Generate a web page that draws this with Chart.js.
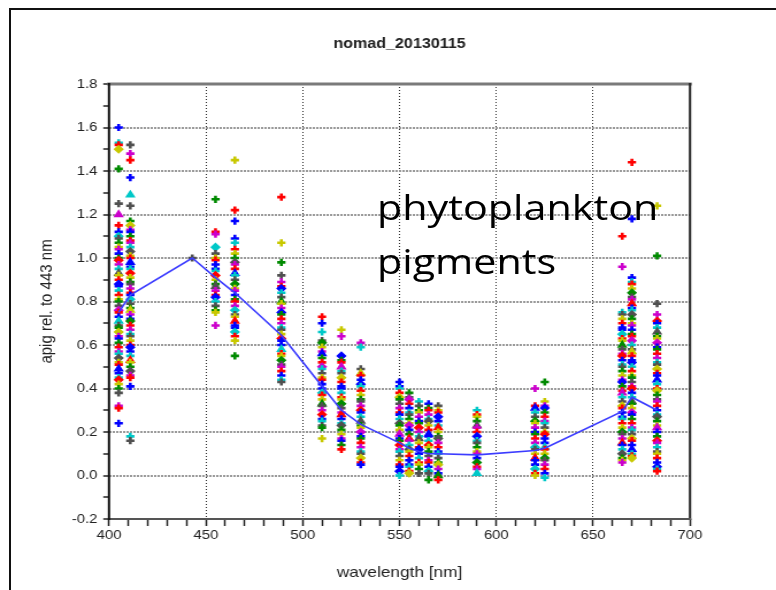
<!DOCTYPE html>
<html>
<head>
<meta charset="utf-8">
<script src="https://cdn.jsdelivr.net/npm/chart.js@4.4.1/dist/chart.umd.min.js"></script>
<style>
  html, body { margin: 0; padding: 0; background: #fff; }
  #wrap { position: relative; width: 776px; height: 590px; overflow: hidden; }
  #c { position: absolute; left: 0; top: 0; }
  #frame { position: absolute; left: 9px; top: 8px; width: 820px; height: 640px;
           border-left: 2px solid #111; border-top: 2px solid #111; pointer-events: none; }
  #note { position: absolute; left: 377px; top: 180px; font-family: 'Open Sans', sans-serif;
          font-size: 35px; line-height: 54px; color: #000; white-space: nowrap;
          transform: scaleX(1.18); transform-origin: 0 0; }
</style>
</head>
<body>
<div id="wrap">
  <canvas id="c" width="675" height="590" style="width:776px;height:590px"></canvas>
  <div id="frame"></div>
  <div id="note">phytoplankton<br>pigments</div>
</div>
<script>
// Wavelength bands (nm) and the band-mean spectrum
const wavelengths = [405, 411, 443, 455, 465, 489, 510, 520, 530, 550, 555, 560, 565, 570, 590, 620, 625, 665, 670, 683];
const meanApig = [0.75, 0.83, 1.00, 0.91, 0.84, 0.645, 0.41, 0.30, 0.235, 0.15, 0.125, 0.11, 0.10, 0.10, 0.095, 0.115, 0.125, 0.295, 0.36, 0.30];

// Individual normalised samples per band
const apig405 = [1.60, 1.53, 1.52, 1.50, 1.41, 1.25, 1.20, 1.15, 1.12, 1.10, 1.09, 1.07, 1.05, 1.04, 1.02, 1.00, 0.99, 0.97, 0.95, 0.93, 0.92, 0.90, 0.88, 0.87, 0.85, 0.83, 0.81, 0.80, 0.78, 0.76, 0.75, 0.73, 0.71, 0.69, 0.68, 0.66, 0.64, 0.63, 0.61, 0.59, 0.57, 0.56, 0.54, 0.52, 0.51, 0.49, 0.47, 0.45, 0.44, 0.42, 0.40, 0.38, 0.32, 0.31, 0.24];
const apig411 = [1.52, 1.48, 1.45, 1.37, 1.29, 1.24, 1.17, 1.15, 1.13, 1.12, 1.10, 1.08, 1.07, 1.05, 1.03, 1.01, 1.00, 0.98, 0.96, 0.95, 0.93, 0.91, 0.89, 0.88, 0.86, 0.84, 0.83, 0.81, 0.79, 0.77, 0.76, 0.74, 0.72, 0.71, 0.69, 0.67, 0.65, 0.64, 0.62, 0.60, 0.59, 0.57, 0.55, 0.53, 0.52, 0.50, 0.48, 0.46, 0.45, 0.41, 0.18, 0.16];
const apig443 = [1.00];
const apig455 = [1.27, 1.12, 1.11, 1.05, 1.02, 1.00, 0.99, 0.97, 0.95, 0.94, 0.92, 0.90, 0.88, 0.87, 0.85, 0.83, 0.82, 0.80, 0.78, 0.76, 0.75, 0.69];
const apig465 = [1.45, 1.22, 1.17, 1.09, 1.07, 1.04, 1.02, 1.00, 0.98, 0.97, 0.95, 0.93, 0.92, 0.90, 0.88, 0.86, 0.85, 0.83, 0.81, 0.80, 0.78, 0.76, 0.74, 0.73, 0.71, 0.69, 0.68, 0.66, 0.64, 0.62, 0.55];
const apig489 = [1.28, 1.07, 0.98, 0.92, 0.89, 0.87, 0.86, 0.84, 0.82, 0.80, 0.79, 0.77, 0.75, 0.74, 0.72, 0.70, 0.68, 0.67, 0.65, 0.63, 0.62, 0.60, 0.58, 0.56, 0.55, 0.53, 0.51, 0.50, 0.48, 0.46, 0.44, 0.43];
const apig510 = [0.73, 0.70, 0.66, 0.62, 0.61, 0.59, 0.57, 0.56, 0.54, 0.52, 0.50, 0.49, 0.47, 0.45, 0.44, 0.42, 0.40, 0.38, 0.37, 0.35, 0.33, 0.32, 0.30, 0.28, 0.26, 0.25, 0.23, 0.22, 0.17];
const apig520 = [0.67, 0.64, 0.55, 0.53, 0.52, 0.50, 0.48, 0.47, 0.45, 0.43, 0.41, 0.40, 0.38, 0.36, 0.35, 0.33, 0.31, 0.29, 0.28, 0.26, 0.24, 0.23, 0.21, 0.19, 0.17, 0.16, 0.14, 0.12];
const apig530 = [0.61, 0.59, 0.49, 0.47, 0.46, 0.44, 0.42, 0.41, 0.39, 0.37, 0.35, 0.34, 0.32, 0.30, 0.29, 0.27, 0.25, 0.23, 0.22, 0.20, 0.18, 0.17, 0.15, 0.13, 0.11, 0.10, 0.08, 0.06, 0.05];
const apig550 = [0.43, 0.41, 0.40, 0.38, 0.36, 0.35, 0.33, 0.31, 0.29, 0.28, 0.26, 0.24, 0.23, 0.21, 0.19, 0.17, 0.16, 0.14, 0.12, 0.11, 0.09, 0.07, 0.05, 0.04, 0.02, 0.00];
const apig555 = [0.38, 0.36, 0.35, 0.33, 0.31, 0.29, 0.28, 0.26, 0.24, 0.23, 0.21, 0.19, 0.17, 0.16, 0.14, 0.12, 0.11, 0.09, 0.07, 0.05, 0.04, 0.02, 0.01];
const apig560 = [0.34, 0.32, 0.30, 0.29, 0.27, 0.25, 0.24, 0.22, 0.20, 0.18, 0.17, 0.15, 0.13, 0.12, 0.10, 0.08, 0.06, 0.05, 0.03, 0.01];
const apig565 = [0.33, 0.31, 0.30, 0.28, 0.26, 0.25, 0.23, 0.21, 0.19, 0.18, 0.16, 0.14, 0.13, 0.11, 0.09, 0.07, 0.06, 0.04, 0.02, 0.01, -0.02];
const apig570 = [0.32, 0.30, 0.29, 0.27, 0.25, 0.23, 0.22, 0.20, 0.18, 0.17, 0.15, 0.13, 0.11, 0.10, 0.08, 0.06, 0.05, 0.03, 0.01, 0.00, -0.02];
const apig590 = [0.30, 0.28, 0.27, 0.25, 0.23, 0.22, 0.20, 0.18, 0.16, 0.15, 0.13, 0.11, 0.10, 0.08, 0.06, 0.04, 0.03, 0.01];
const apig620 = [0.40, 0.32, 0.31, 0.29, 0.27, 0.25, 0.24, 0.22, 0.20, 0.19, 0.17, 0.15, 0.13, 0.12, 0.10, 0.08, 0.07, 0.05, 0.03, 0.01, 0.00];
const apig625 = [0.43, 0.34, 0.32, 0.31, 0.29, 0.27, 0.25, 0.24, 0.22, 0.20, 0.19, 0.17, 0.15, 0.13, 0.12, 0.10, 0.08, 0.07, 0.05, 0.03, 0.01, -0.01];
const apig665 = [1.10, 0.96, 0.75, 0.74, 0.72, 0.70, 0.68, 0.67, 0.65, 0.63, 0.62, 0.60, 0.58, 0.56, 0.55, 0.53, 0.51, 0.50, 0.48, 0.46, 0.44, 0.43, 0.41, 0.39, 0.38, 0.36, 0.34, 0.32, 0.31, 0.29, 0.27, 0.26, 0.24, 0.22, 0.20, 0.19, 0.17, 0.15, 0.14, 0.12, 0.10, 0.08, 0.07, 0.06];
const apig670 = [1.44, 1.18, 0.91, 0.89, 0.88, 0.86, 0.84, 0.82, 0.81, 0.79, 0.77, 0.76, 0.74, 0.72, 0.70, 0.69, 0.67, 0.65, 0.64, 0.62, 0.60, 0.58, 0.57, 0.55, 0.53, 0.52, 0.50, 0.48, 0.46, 0.45, 0.43, 0.41, 0.40, 0.38, 0.36, 0.34, 0.33, 0.31, 0.29, 0.28, 0.26, 0.24, 0.22, 0.21, 0.19, 0.17, 0.16, 0.14, 0.12, 0.10, 0.09, 0.08];
const apig683 = [1.24, 1.01, 0.79, 0.74, 0.71, 0.70, 0.68, 0.66, 0.64, 0.63, 0.61, 0.59, 0.58, 0.56, 0.54, 0.52, 0.51, 0.49, 0.47, 0.46, 0.44, 0.42, 0.40, 0.39, 0.37, 0.35, 0.34, 0.32, 0.30, 0.28, 0.27, 0.25, 0.23, 0.22, 0.20, 0.18, 0.16, 0.15, 0.13, 0.11, 0.10, 0.08, 0.06, 0.04, 0.03, 0.02];

const samplesByBand = [apig405, apig411, apig443, apig455, apig465, apig489, apig510, apig520, apig530,
  apig550, apig555, apig560, apig565, apig570, apig590, apig620, apig625, apig665, apig670, apig683];

const xTickLabels = ['400', '450', '500', '550', '600', '650', '700'];
const yTickLabels = ['-0.2', '0.0', '0.2', '0.4', '0.6', '0.8', '1.0', '1.2', '1.4', '1.6', '1.8'];

// Marker styling: a fixed, uneven colour order so neighbouring samples differ
const markerColors = ['#0000ff', '#ff0000', '#008a00', '#00c8c8', '#cc00cc', '#c8c800', '#505050'];
const colorOrder = [0, 3, 1, 5, 2, 6, 4, 1, 0, 3, 6, 2, 5, 4, 0, 2, 1, 4, 3, 6, 5, 1, 0];
const markerShapes = ['cross', 'cross', 'cross', 'rectRot', 'cross', 'cross', 'triangle', 'cross', 'cross', 'rectRot', 'cross', 'cross', 'cross'];

const FONT = "'Liberation Sans', Arial, sans-serif";

const shapeAt = (b, i) => (i < 2 ? 'cross' : markerShapes[(i + b * 2) % markerShapes.length]);
const colorAt = (b, i) => markerColors[colorOrder[(i + b * 5) % colorOrder.length]];

const bandSets = samplesByBand.map((vals, b) => ({
  type: 'scatter',
  order: 1,
  data: vals.map(v => ({ x: wavelengths[b], y: v })),
  showLine: false,
  pointRadius: ctx => (shapeAt(b, ctx.dataIndex) === 'cross' ? 3.6 : 2.7),
  pointBorderWidth: 2.6,
  pointStyle: ctx => shapeAt(b, ctx.dataIndex),
  pointBorderColor: ctx => colorAt(b, ctx.dataIndex),
  pointBackgroundColor: ctx => colorAt(b, ctx.dataIndex)
}));

const meanSet = {
  type: 'line',
  order: 0,
  data: wavelengths.map((w, i) => ({ x: w, y: meanApig[i] })),
  borderColor: '#3c3cff',
  borderWidth: 1.6,
  pointRadius: 0,
  tension: 0,
  fill: false
};

// Box around the plotting area
const plotFrame = {
  id: 'plotFrame',
  afterDatasetsDraw(chart) {
    const { ctx, chartArea: a } = chart;
    ctx.save();
    ctx.lineCap = 'square';
    ctx.strokeStyle = '#7a7a7a'; ctx.lineWidth = 3;
    ctx.beginPath(); ctx.moveTo(a.left, a.top); ctx.lineTo(a.right, a.top); ctx.stroke();
    ctx.strokeStyle = '#222'; ctx.lineWidth = 2;
    ctx.beginPath(); ctx.moveTo(a.right, a.top); ctx.lineTo(a.right, a.bottom); ctx.stroke();
    ctx.strokeStyle = '#555'; ctx.lineWidth = 2;
    ctx.beginPath(); ctx.moveTo(a.left, a.bottom); ctx.lineTo(a.right, a.bottom); ctx.stroke();
    ctx.strokeStyle = '#111'; ctx.lineWidth = 2;
    ctx.beginPath(); ctx.moveTo(a.left, a.top); ctx.lineTo(a.left, a.bottom); ctx.stroke();
    ctx.restore();
  }
};

new Chart(document.getElementById('c'), {
  type: 'scatter',
  data: { datasets: [...bandSets, meanSet] },
  options: {
    responsive: false,
    animation: false,
    devicePixelRatio: 1,
    layout: { padding: { left: 0, right: 74.8, top: 0, bottom: 0 } },
    plugins: {
      legend: { display: false },
      tooltip: { enabled: false },
      title: {
        display: true,
        fullSize: false,
        text: 'nomad_20130115',
        color: '#222',
        font: { family: FONT, size: 14, weight: 'bold' },
        padding: { top: 35.6, bottom: 31.6 }
      }
    },
    scales: {
      x: {
        type: 'linear',
        min: 400, max: 700,
        afterFit: s => { s.height = 71; },
        ticks: {
          stepSize: 10, autoSkip: false, maxRotation: 0, padding: 2,
          color: '#222', font: { family: FONT, size: 13 },
          callback: v => (v % 50 === 0 ? xTickLabels[(v - 400) / 50] : '')
        },
        grid: {
          color: ctx => (ctx.tick && ctx.tick.value % 50 === 0 && ctx.tick.value > 400 && ctx.tick.value < 700) ? '#333' : 'rgba(0,0,0,0)',
          lineWidth: 1,
          tickColor: '#222', tickLength: 7, tickWidth: 1.5
        },
        border: { display: false, dash: [1, 2] },
        title: {
          display: true, text: 'wavelength [nm]', color: '#222',
          font: { family: FONT, size: 15 }, padding: { top: 0, bottom: 8 }
        }
      },
      y: {
        min: -0.2, max: 1.8,
        afterFit: s => { s.width = 94.8; },
        ticks: {
          stepSize: 0.1, autoSkip: false, padding: 5,
          color: '#222', font: { family: FONT, size: 13 },
          callback: v => {
            const k = Math.round(v * 10);
            return k % 2 === 0 ? yTickLabels[(k + 2) / 2] : '';
          }
        },
        grid: {
          color: ctx => {
            if (!ctx.tick) return 'rgba(0,0,0,0)';
            const k = Math.round(ctx.tick.value * 10);
            return (k % 2 === 0 && k > -2 && k < 18) ? '#9a9a9a' : 'rgba(0,0,0,0)';
          },
          lineWidth: 2,
          tickColor: '#222', tickLength: 5, tickWidth: 1.5
        },
        border: { display: false, dash: [2, 1] },
        title: {
          display: true, text: 'apig rel. to 443 nm', color: '#222',
          font: { family: FONT, size: 15 }, padding: { top: 31.9, bottom: 0 }
        }
      }
    }
  },
  plugins: [plotFrame]
});
</script>
</body>
</html>
